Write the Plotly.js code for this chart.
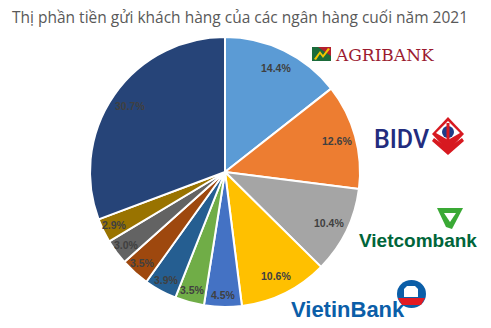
<!DOCTYPE html>
<html><head><meta charset="utf-8">
<script src="https://cdn.plot.ly/plotly-3.0.1.min.js"></script>
<style>html,body{margin:0;padding:0;background:#fff}#chart{width:491px;height:328px}</style>
</head><body><div id="chart"></div>
<script>
const bankNames = ['Agribank','BIDV','Vietcombank','VietinBank','NH 5','NH 6','NH 7','NH 8','NH 9','NH 10','Khác'];
const shares = [14.4, 12.6, 10.4, 10.6, 4.5, 3.5, 3.9, 3.5, 3.0, 2.9, 30.7];
const sliceColors = ['#5B9BD5','#ED7D31','#A5A5A5','#FFC000','#4472C4','#70AD47','#255E91','#9E480E','#636363','#997300','#264478'];
const titleText = 'Thị phần tiền gửi khách hàng của các ngân hàng cuối năm 2021';

const W = 491, H = 328;
const px = x => x / W, py = y => 1 - y / H;
function path(points) {
  return 'M' + points.map(p => px(p[0]).toFixed(5) + ',' + py(p[1]).toFixed(5)).join(' L') + ' Z';
}
const cx = 225, cy = 172, R = 135;

const trace = {
  type: 'pie',
  labels: bankNames,
  values: shares,
  sort: false,
  direction: 'clockwise',
  rotation: 0,
  marker: {colors: sliceColors, line: {color: '#ffffff', width: 2}},
  textinfo: 'none',
  hoverinfo: 'label+value',
  showlegend: false,
  domain: {x: [(cx - R) / W, (cx + R) / W], y: [(H - cy - R) / H, (H - cy + R) / H]}
};

// data labels placed at each slice's mid-angle (Excel-style, near the rim)
const total = shares.reduce((a, b) => a + b, 0);
const labelAnnotations = [];
let cum = 0;
shares.forEach(v => {
  const mid = (cum + v / 2) / total * 2 * Math.PI;
  cum += v;
  const f = v >= 10 ? 0.86 : 0.91;
  const x = cx + f * R * Math.sin(mid), y = cy - f * R * Math.cos(mid);
  labelAnnotations.push({text: '<b>' + v.toFixed(1) + '%</b>', xref: 'paper', yref: 'paper', x: px(x), y: py(y),
    xanchor: 'center', yanchor: 'middle', showarrow: false,
    font: {family: 'Liberation Sans', size: 10.5, color: '#404040'}});
});

const shapes = [
  // Agribank icon
  {type: 'rect', xref: 'paper', yref: 'paper', x0: px(312), x1: px(331), y0: py(61), y1: py(47), fillcolor: '#1B6B3A', line: {width: 0}},
  {type: 'path', xref: 'paper', yref: 'paper', path: path([[318,47],[331,47],[331,56]]), fillcolor: '#B3202E', line: {width: 0}},
  {type: 'path', xref: 'paper', yref: 'paper', path: path([[314,59],[320,51],[323,55],[328,48],[330,49],[323,58],[320,54],[316,60]]), fillcolor: '#F2C500', line: {width: 0}},
  // BIDV icon
  {type: 'path', xref: 'paper', yref: 'paper', path: path([[448,117],[464,134],[448,151],[432,134]]), fillcolor: '#D71920', line: {width: 0}},
  {type: 'path', xref: 'paper', yref: 'paper', path: path([[448,121],[460,133],[448,140],[436,133]]), fillcolor: '#ffffff', line: {width: 0}},
  {type: 'path', xref: 'paper', yref: 'paper', path: path([[434,138],[448,148],[462,138],[464,141],[448,155],[432,141]]), fillcolor: '#D71920', line: {width: 0}},
  {type: 'circle', xref: 'paper', yref: 'paper', x0: px(442), x1: px(454), y0: py(138), y1: py(126), fillcolor: '#1F3C88', line: {width: 0}},
  {type: 'rect', xref: 'paper', yref: 'paper', x0: px(446.5), x1: px(449.5), y0: py(140), y1: py(123), fillcolor: '#D71920', line: {width: 0}},
  // Vietcombank icon
  {type: 'path', xref: 'paper', yref: 'paper', path: path([[437,208],[463,208],[452,229],[446,227]]), fillcolor: '#3AA935', line: {width: 0}},
  {type: 'path', xref: 'paper', yref: 'paper', path: path([[444,213],[456,213],[450,222]]), fillcolor: '#ffffff', line: {width: 0}},
  // VietinBank icon
  {type: 'circle', xref: 'paper', yref: 'paper', x0: px(397), x1: px(426), y0: py(308), y1: py(280), fillcolor: '#0B5EA8', line: {width: 0}},
  {type: 'path', xref: 'paper', yref: 'paper', path: path([[398,298],[425,298],[421,305],[402,305]]), fillcolor: '#E31B23', line: {width: 0}},
  {type: 'path', xref: 'paper', yref: 'paper', path: path([[404,297],[404,289],[407,286],[415,286],[418,289],[418,297]]), fillcolor: '#ffffff', line: {width: 0}}
];

const annotations = labelAnnotations.concat([
  {text: 'AGRIBANK', xref: 'paper', yref: 'paper', x: px(333), y: py(55), xanchor: 'left', yanchor: 'middle', showarrow: false,
   font: {family: 'DejaVu Serif', size: 17, color: '#9B1B30'}},
  {text: 'BIDV', xref: 'paper', yref: 'paper', x: px(372), y: py(139), xanchor: 'left', yanchor: 'middle', showarrow: false,
   font: {family: 'Roboto', size: 25, weight: 500, color: '#232C7E'}},
  {text: 'Vietcombank', xref: 'paper', yref: 'paper', x: px(357), y: py(240), xanchor: 'left', yanchor: 'middle', showarrow: false,
   font: {family: 'Liberation Sans', size: 19, weight: 700, color: '#00653A'}},
  {text: 'VietinBank', xref: 'paper', yref: 'paper', x: px(289), y: py(309), xanchor: 'left', yanchor: 'middle', showarrow: false,
   font: {family: 'Liberation Sans', size: 22, weight: 700, color: '#0B5EA8'}}
]);

const layout = {
  width: W, height: H,
  margin: {l: 0, r: 0, t: 0, b: 0},
  paper_bgcolor: '#ffffff',
  title: {text: titleText, x: 12 / W, xanchor: 'left', xref: 'paper', y: 1 - 18 / H, yref: 'container', yanchor: 'middle',
          font: {family: 'Open Sans', size: 15.5, color: '#595959'}},
  shapes: shapes,
  annotations: annotations
};

Plotly.newPlot('chart', [trace], layout, {displayModeBar: false, staticPlot: true});
</script>
</body></html>
